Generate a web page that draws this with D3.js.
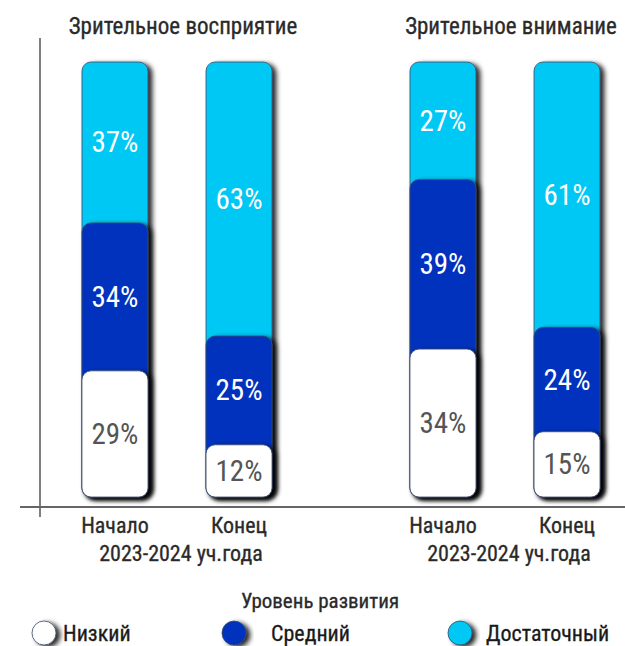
<!DOCTYPE html>
<html>
<head>
<meta charset="utf-8">
<script src="https://cdn.jsdelivr.net/npm/d3@7"></script>
<style>
  body { margin: 0; background: #fff; }
  text { font-family: "Roboto Condensed", "Liberation Sans Narrow", "DejaVu Sans Condensed", sans-serif; }
</style>
</head>
<body>
<div id="chart-area"></div>
<script>
const groups = ["Зрительное восприятие", "Зрительное внимание"]
const periods = ["Начало", "Конец"]
const levels = ["Низкий", "Средний", "Достаточный"]
const yearLabel = "2023-2024 уч.года"
const legendTitle = "Уровень развития"

// values per group: [Начало, Конец]
const low    = [[29, 12], [34, 15]]
const medium = [[34, 25], [39, 24]]
const high   = [[37, 63], [27, 61]]

const colors = ["#ffffff", "#0433bd", "#00c8f5"]
const textColors = ["#555555", "#ffffff", "#ffffff"]

const W = 625, H = 646

const svg = d3.select("#chart-area").append("svg")
  .attr("width", W).attr("height", H)

const defs = svg.append("defs")
const f = defs.append("filter").attr("id", "shadow")
  .attr("x", "-30%").attr("y", "-30%").attr("width", "160%").attr("height", "160%")
f.append("feDropShadow")
  .attr("dx", 4).attr("dy", 2).attr("stdDeviation", 2.5)
  .attr("flood-color", "#000").attr("flood-opacity", 0.85)

const xOuter = d3.scaleBand().domain(d3.range(groups.length)).range([13, 669])
const xInner = d3.scaleBand().domain(d3.range(periods.length))
  .range([0, xOuter.bandwidth()]).paddingInner(0.468).paddingOuter(0.556)
const y = d3.scaleLinear().domain([0, 100]).range([497, 62])

// axes lines
svg.append("line").attr("x1", 40).attr("x2", 40).attr("y1", 38).attr("y2", 517)
  .attr("stroke", "#555").attr("stroke-width", 1.5)
svg.append("line").attr("x1", 20).attr("x2", 625).attr("y1", y(0) + 10).attr("y2", y(0) + 10)
  .attr("stroke", "#666").attr("stroke-width", 2)

const series = [low, medium, high]

groups.forEach((gname, gi) => {
  const g = svg.append("g").attr("transform", `translate(${xOuter(gi)},0)`)

  g.append("text").attr("x", xOuter.bandwidth() / 2 + 6).attr("y", 34)
    .attr("text-anchor", "middle").attr("font-size", 23).attr("fill", "#2a2a2a")
    .attr("stroke", "#2a2a2a").attr("stroke-width", 0.3)
    .text(gname)

  periods.forEach((p, pi) => {
    const x = xInner(pi), bw = xInner.bandwidth()
    const tops = []
    let acc = 0
    series.forEach((s, li) => { acc += s[gi][pi]; tops[li] = acc })
    // top level first, so the lower segments overlap the upper ones
    for (let li = series.length - 1; li >= 0; li--) {
      g.append("rect")
        .attr("x", x).attr("width", bw)
        .attr("y", y(tops[li])).attr("height", y(0) - y(tops[li]))
        .attr("rx", 9)
        .attr("fill", colors[li])
        .attr("stroke", "#3a4a6a").attr("stroke-width", 0.8)
        .attr("filter", "url(#shadow)")
    }
    series.forEach((s, li) => {
      const bottom = li === 0 ? 0 : tops[li - 1]
      g.append("text")
        .attr("x", x + bw / 2).attr("y", (y(tops[li]) + y(bottom)) / 2 + 10)
        .attr("text-anchor", "middle").attr("font-size", 29)
        .attr("fill", textColors[li])
        .text(s[gi][pi] + "%")
    })
    g.append("text").attr("x", x + bw / 2).attr("y", 533)
      .attr("text-anchor", "middle").attr("font-size", 22).attr("fill", "#2a2a2a")
      .attr("stroke", "#2a2a2a").attr("stroke-width", 0.3)
      .text(p)
  })

  g.append("text").attr("x", xOuter.bandwidth() / 2 + 4).attr("y", 561)
    .attr("text-anchor", "middle").attr("font-size", 22).attr("fill", "#2a2a2a")
    .attr("stroke", "#2a2a2a").attr("stroke-width", 0.3)
    .text(yearLabel)
})

// legend
svg.append("text").attr("x", 320).attr("y", 608).attr("text-anchor", "middle")
  .attr("font-size", 21).attr("fill", "#2a2a2a")
  .attr("stroke", "#2a2a2a").attr("stroke-width", 0.3).text(legendTitle)

const legX = [[44, 63], [234, 271], [460, 486]]
levels.forEach((l, i) => {
  svg.append("circle").attr("cx", legX[i][0]).attr("cy", 633).attr("r", 12)
    .attr("fill", colors[i]).attr("stroke", "#3a4a6a").attr("stroke-width", 0.8)
    .attr("filter", "url(#shadow)")
  svg.append("text").attr("x", legX[i][1]).attr("y", 641)
    .attr("font-size", 22).attr("fill", "#1a1a1a")
    .attr("stroke", "#1a1a1a").attr("stroke-width", 0.3).text(l)
})
</script>
</body>
</html>
